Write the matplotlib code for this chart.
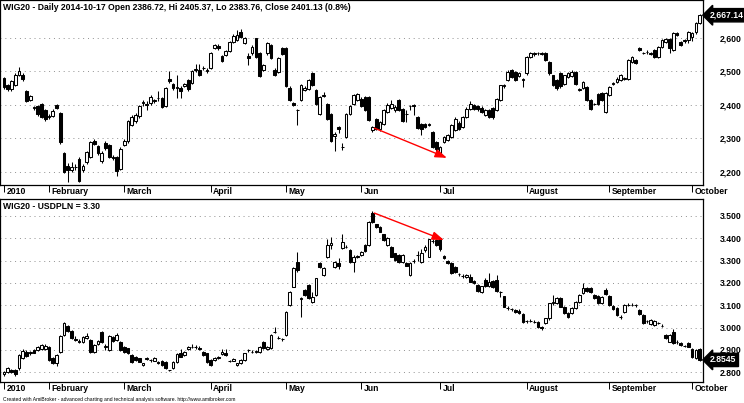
import matplotlib
matplotlib.use("Agg")
import matplotlib.pyplot as plt

# WIG20 daily candles (Jan 2010 - Oct 2010)
wig_open = [2479, 2460, 2446, 2458, 2490, 2490, 2442, 2414, 2391, 2396,
            2402, 2383, 2364, 2367, 2400, 2375, 2257, 2218, 2205, 2213,
            2238, 2206, 2228, 2245, 2292, 2275, 2232, 2286, 2280, 2244,
            2243, 2208, 2280, 2290, 2340, 2352, 2365, 2406, 2401, 2405,
            2410, 2419, 2420, 2395, 2478, 2462, 2449, 2450, 2455, 2474,
            2466, 2502, 2504, 2508, 2500, 2510, 2568, 2576, 2545, 2549,
            2560, 2586, 2593, 2618, 2584, 2546, 2553, 2598, 2553, 2503,
            2553, 2578, 2503, 2498, 2568, 2568, 2451, 2404, 2385, 2413,
            2443, 2448, 2495, 2445, 2371, 2427, 2401, 2373, 2305, 2333,
            2273, 2303, 2373, 2403, 2413, 2418, 2423, 2423, 2323, 2358,
            2328, 2343, 2378, 2391, 2383, 2413, 2388, 2373, 2395, 2398,
            2363, 2343, 2341, 2340, 2318, 2288, 2251, 2288, 2293, 2303,
            2323, 2345, 2333, 2363, 2388, 2398, 2395, 2391, 2368, 2383,
            2391, 2383, 2413, 2457, 2473, 2503, 2498, 2485, 2475, 2493,
            2543, 2551, 2553, 2552, 2553, 2528, 2488, 2473, 2493, 2463,
            2483, 2485, 2498, 2445, 2451, 2453, 2413, 2402, 2433, 2435,
            2378, 2428, 2462, 2468, 2473, 2478, 2478, 2528, 2533, 2568,
            2554, 2557, 2552, 2563, 2541, 2573, 2588, 2595, 2563, 2615,
            2588, 2590, 2593, 2603, 2618, 2643]
wig_high = [2483, 2463, 2474, 2493, 2511, 2493, 2445, 2428, 2396, 2399,
            2405, 2386, 2372, 2386, 2402, 2377, 2260, 2226, 2228, 2222,
            2245, 2222, 2262, 2292, 2298, 2278, 2262, 2290, 2283, 2250,
            2246, 2272, 2296, 2355, 2368, 2375, 2400, 2414, 2410, 2428,
            2418, 2440, 2424, 2452, 2500, 2466, 2490, 2456, 2466, 2478,
            2504, 2520, 2522, 2515, 2510, 2558, 2582, 2580, 2548, 2563,
            2590, 2610, 2622, 2625, 2602, 2553, 2578, 2600, 2556, 2522,
            2586, 2580, 2508, 2542, 2572, 2572, 2455, 2408, 2388, 2462,
            2455, 2476, 2498, 2448, 2426, 2438, 2404, 2376, 2318, 2336,
            2285, 2376, 2398, 2432, 2436, 2422, 2425, 2426, 2336, 2360,
            2352, 2386, 2405, 2415, 2398, 2416, 2390, 2383, 2400, 2402,
            2366, 2346, 2344, 2345, 2320, 2292, 2276, 2306, 2312, 2342,
            2362, 2350, 2366, 2392, 2410, 2402, 2398, 2395, 2386, 2386,
            2394, 2420, 2460, 2462, 2502, 2506, 2501, 2498, 2480, 2546,
            2558, 2556, 2558, 2556, 2556, 2530, 2490, 2476, 2496, 2490,
            2497, 2502, 2501, 2450, 2472, 2456, 2416, 2406, 2436, 2438,
            2438, 2456, 2468, 2482, 2491, 2482, 2536, 2545, 2536, 2572,
            2558, 2562, 2556, 2566, 2576, 2596, 2600, 2598, 2616, 2618,
            2591, 2596, 2620, 2618, 2646, 2672]
wig_low = [2448, 2440, 2442, 2455, 2486, 2470, 2408, 2410, 2384, 2366,
           2360, 2350, 2358, 2364, 2387, 2283, 2195, 2170, 2200, 2205,
           2168, 2198, 2222, 2240, 2278, 2250, 2226, 2266, 2242, 2235,
           2188, 2204, 2276, 2286, 2336, 2345, 2360, 2395, 2385, 2400,
           2404, 2412, 2390, 2392, 2466, 2444, 2420, 2420, 2452, 2440,
           2462, 2496, 2486, 2502, 2494, 2506, 2565, 2564, 2526, 2545,
           2557, 2583, 2590, 2600, 2580, 2518, 2548, 2540, 2482, 2500,
           2548, 2535, 2486, 2495, 2548, 2452, 2410, 2396, 2338, 2410,
           2440, 2444, 2455, 2398, 2368, 2422, 2355, 2288, 2263, 2315,
           2265, 2300, 2370, 2400, 2410, 2392, 2380, 2350, 2318, 2325,
           2320, 2340, 2375, 2388, 2378, 2380, 2348, 2348, 2385, 2368,
           2328, 2308, 2330, 2336, 2270, 2262, 2248, 2284, 2290, 2300,
           2320, 2325, 2330, 2360, 2385, 2385, 2380, 2375, 2365, 2360,
           2358, 2380, 2410, 2450, 2470, 2480, 2470, 2482, 2453, 2490,
           2540, 2545, 2548, 2548, 2530, 2488, 2456, 2445, 2450, 2460,
           2480, 2482, 2460, 2440, 2448, 2410, 2385, 2398, 2400, 2410,
           2375, 2425, 2458, 2465, 2470, 2474, 2475, 2525, 2520, 2560,
           2550, 2552, 2548, 2538, 2538, 2570, 2585, 2555, 2560, 2605,
           2575, 2585, 2585, 2590, 2612, 2640]
wig_close = [2454, 2446, 2471, 2490, 2500, 2476, 2412, 2425, 2392, 2372,
             2363, 2357, 2366, 2382, 2390, 2287, 2198, 2204, 2215, 2214,
             2173, 2218, 2258, 2288, 2282, 2255, 2256, 2271, 2245, 2241,
             2202, 2268, 2292, 2350, 2364, 2370, 2395, 2408, 2399, 2424,
             2413, 2421, 2394, 2450, 2472, 2449, 2452, 2441, 2463, 2446,
             2500, 2505, 2490, 2510, 2502, 2555, 2579, 2568, 2530, 2560,
             2586, 2606, 2608, 2603, 2598, 2540, 2573, 2543, 2485, 2518,
             2583, 2538, 2490, 2538, 2551, 2455, 2413, 2400, 2384, 2458,
             2451, 2473, 2458, 2401, 2423, 2428, 2358, 2291, 2312, 2328,
             2274, 2373, 2395, 2428, 2433, 2395, 2383, 2353, 2333, 2328,
             2348, 2383, 2398, 2403, 2393, 2383, 2351, 2372, 2397, 2396,
             2331, 2328, 2333, 2341, 2273, 2268, 2273, 2303, 2308, 2338,
             2358, 2328, 2363, 2388, 2403, 2388, 2388, 2378, 2383, 2363,
             2363, 2418, 2458, 2458, 2498, 2483, 2473, 2495, 2476, 2543,
             2553, 2553, 2554, 2553, 2533, 2493, 2458, 2451, 2455, 2488,
             2493, 2498, 2463, 2447, 2468, 2413, 2388, 2403, 2403, 2413,
             2435, 2453, 2464, 2478, 2488, 2479, 2533, 2541, 2523, 2563,
             2555, 2558, 2553, 2541, 2573, 2593, 2595, 2568, 2613, 2608,
             2578, 2592, 2618, 2615, 2643, 2667]

# USDPLN daily candles
usd_open = [2.790, 2.802, 2.812, 2.810, 2.817, 2.862, 2.892, 2.888, 2.901, 2.899,
            2.903, 2.904, 2.914, 2.862, 2.840, 2.890, 2.968, 3.005, 2.985, 2.947,
            2.938, 2.937, 2.955, 2.944, 2.892, 2.928, 2.980, 2.914, 2.900, 2.958,
            2.944, 2.935, 2.914, 2.907, 2.877, 2.869, 2.862, 2.830, 2.861, 2.853,
            2.851, 2.847, 2.851, 2.847, 2.810, 2.820, 2.847, 2.884, 2.877, 2.904,
            2.914, 2.913, 2.907, 2.892, 2.884, 2.854, 2.855, 2.862, 2.880, 2.884,
            2.850, 2.852, 2.832, 2.840, 2.854, 2.898, 2.892, 2.890, 2.892, 2.937,
            2.904, 2.907, 2.981, 2.955, 2.949, 2.966, 3.101, 3.183, 3.295, 3.128,
            3.168, 3.190, 3.116, 3.146, 3.287, 3.235, 3.318, 3.368, 3.273, 3.290,
            3.355, 3.362, 3.348, 3.295, 3.318, 3.325, 3.370, 3.370, 3.512, 3.462,
            3.452, 3.418, 3.370, 3.362, 3.333, 3.325, 3.295, 3.288, 3.235, 3.300,
            3.325, 3.295, 3.348, 3.318, 3.388, 3.393, 3.400, 3.320, 3.298, 3.288,
            3.273, 3.240, 3.232, 3.228, 3.228, 3.210, 3.190, 3.161, 3.215, 3.185,
            3.210, 3.213, 3.161, 3.140, 3.089, 3.083, 3.080, 3.076, 3.062, 3.029,
            3.030, 3.027, 3.026, 3.001, 3.019, 3.041, 3.108, 3.108, 3.131, 3.093,
            3.064, 3.064, 3.086, 3.116, 3.154, 3.178, 3.176, 3.146, 3.140, 3.110,
            3.170, 3.140, 3.095, 3.086, 3.049, 3.070, 3.100, 3.102, 3.101, 3.078,
            3.056, 3.029, 3.016, 3.012, 3.020, 3.009, 2.966, 2.937, 2.978, 2.936,
            2.930, 2.919, 2.932, 2.905, 2.862, 2.905]
usd_high = [2.806, 2.822, 2.815, 2.815, 2.882, 2.902, 2.898, 2.895, 2.905, 2.918,
            2.928, 2.925, 2.916, 2.866, 2.880, 2.966, 3.026, 3.010, 2.988, 2.960,
            2.950, 2.962, 2.975, 2.948, 2.925, 2.945, 2.984, 2.925, 2.965, 2.962,
            2.975, 2.938, 2.918, 2.910, 2.880, 2.872, 2.865, 2.842, 2.870, 2.860,
            2.866, 2.850, 2.855, 2.850, 2.812, 2.850, 2.884, 2.905, 2.897, 2.918,
            2.925, 2.923, 2.918, 2.895, 2.887, 2.857, 2.866, 2.873, 2.905, 2.905,
            2.855, 2.863, 2.842, 2.860, 2.888, 2.905, 2.898, 2.900, 2.918, 2.940,
            2.918, 2.970, 3.004, 2.962, 2.955, 3.075, 3.166, 3.270, 3.340, 3.138,
            3.172, 3.195, 3.160, 3.224, 3.292, 3.270, 3.395, 3.406, 3.300, 3.310,
            3.418, 3.370, 3.352, 3.325, 3.325, 3.345, 3.375, 3.478, 3.520, 3.466,
            3.455, 3.420, 3.404, 3.365, 3.336, 3.328, 3.330, 3.292, 3.292, 3.305,
            3.345, 3.350, 3.368, 3.398, 3.395, 3.396, 3.403, 3.325, 3.302, 3.292,
            3.276, 3.246, 3.238, 3.242, 3.240, 3.213, 3.193, 3.188, 3.222, 3.245,
            3.214, 3.235, 3.165, 3.143, 3.095, 3.088, 3.084, 3.082, 3.065, 3.036,
            3.038, 3.034, 3.030, 3.008, 3.045, 3.112, 3.146, 3.136, 3.135, 3.097,
            3.068, 3.090, 3.120, 3.150, 3.200, 3.182, 3.180, 3.150, 3.144, 3.140,
            3.178, 3.144, 3.099, 3.090, 3.054, 3.104, 3.110, 3.110, 3.106, 3.082,
            3.060, 3.036, 3.040, 3.034, 3.026, 3.014, 2.972, 2.970, 2.992, 2.942,
            2.934, 2.924, 2.936, 2.908, 2.904, 2.908]
usd_low = [2.783, 2.798, 2.795, 2.785, 2.812, 2.858, 2.870, 2.878, 2.884, 2.896,
           2.900, 2.900, 2.850, 2.838, 2.828, 2.886, 2.964, 2.980, 2.948, 2.940,
           2.932, 2.932, 2.950, 2.888, 2.888, 2.922, 2.932, 2.900, 2.895, 2.936,
           2.940, 2.896, 2.888, 2.880, 2.843, 2.850, 2.844, 2.826, 2.855, 2.845,
           2.848, 2.836, 2.828, 2.813, 2.805, 2.815, 2.843, 2.866, 2.874, 2.900,
           2.910, 2.906, 2.900, 2.873, 2.843, 2.828, 2.852, 2.858, 2.876, 2.873,
           2.845, 2.848, 2.828, 2.836, 2.850, 2.890, 2.885, 2.885, 2.888, 2.904,
           2.900, 2.903, 2.975, 2.948, 2.940, 2.962, 3.097, 3.180, 3.250, 3.048,
           3.142, 3.126, 3.110, 3.140, 3.268, 3.230, 3.310, 3.350, 3.265, 3.262,
           3.350, 3.355, 3.290, 3.250, 3.310, 3.320, 3.340, 3.365, 3.470, 3.448,
           3.426, 3.388, 3.365, 3.314, 3.298, 3.290, 3.290, 3.274, 3.230, 3.290,
           3.300, 3.290, 3.340, 3.314, 3.380, 3.366, 3.345, 3.308, 3.283, 3.238,
           3.244, 3.230, 3.222, 3.224, 3.202, 3.195, 3.160, 3.156, 3.182, 3.180,
           3.176, 3.158, 3.138, 3.090, 3.080, 3.075, 3.064, 3.062, 3.022, 3.022,
           3.024, 3.020, 3.000, 2.990, 3.015, 3.036, 3.100, 3.104, 3.090, 3.060,
           3.045, 3.060, 3.082, 3.112, 3.150, 3.160, 3.156, 3.126, 3.106, 3.106,
           3.146, 3.096, 3.080, 3.050, 3.040, 3.066, 3.095, 3.096, 3.094, 3.056,
           3.015, 3.022, 3.012, 3.008, 3.014, 3.002, 2.948, 2.933, 2.928, 2.928,
           2.918, 2.912, 2.912, 2.864, 2.858, 2.850]
usd_close = [2.800, 2.817, 2.800, 2.790, 2.877, 2.896, 2.874, 2.889, 2.887, 2.914,
             2.921, 2.918, 2.854, 2.843, 2.877, 2.962, 3.020, 2.985, 2.953, 2.944,
             2.937, 2.958, 2.960, 2.892, 2.921, 2.940, 2.937, 2.916, 2.960, 2.940,
             2.966, 2.900, 2.891, 2.884, 2.847, 2.854, 2.847, 2.839, 2.862, 2.855,
             2.862, 2.839, 2.832, 2.817, 2.809, 2.847, 2.880, 2.869, 2.892, 2.914,
             2.915, 2.914, 2.906, 2.877, 2.847, 2.832, 2.862, 2.869, 2.892, 2.877,
             2.849, 2.857, 2.839, 2.854, 2.884, 2.900, 2.891, 2.893, 2.914, 2.907,
             2.914, 2.966, 2.982, 2.954, 2.948, 3.071, 3.160, 3.265, 3.258, 3.134,
             3.146, 3.131, 3.138, 3.220, 3.273, 3.265, 3.370, 3.380, 3.295, 3.275,
             3.385, 3.363, 3.295, 3.318, 3.319, 3.340, 3.343, 3.475, 3.475, 3.452,
             3.430, 3.392, 3.400, 3.318, 3.303, 3.295, 3.325, 3.278, 3.288, 3.298,
             3.326, 3.333, 3.362, 3.395, 3.389, 3.370, 3.352, 3.313, 3.288, 3.243,
             3.248, 3.239, 3.231, 3.236, 3.205, 3.198, 3.165, 3.185, 3.185, 3.206,
             3.180, 3.163, 3.159, 3.093, 3.088, 3.082, 3.068, 3.066, 3.026, 3.030,
             3.031, 3.026, 3.004, 3.000, 3.041, 3.108, 3.116, 3.131, 3.093, 3.064,
             3.049, 3.086, 3.116, 3.146, 3.176, 3.165, 3.161, 3.131, 3.110, 3.135,
             3.150, 3.100, 3.085, 3.056, 3.048, 3.100, 3.101, 3.103, 3.100, 3.060,
             3.019, 3.030, 3.036, 3.030, 3.021, 3.008, 2.952, 2.965, 2.932, 2.935,
             2.922, 2.918, 2.915, 2.868, 2.900, 2.855]

month_labels = ["2010", "February", "March", "April", "May", "Jun", "Jul",
                "August", "September", "October"]
month_bars = [12, 20, 23, 20, 20, 21, 23, 22, 22, 3]

wig_ticks = [2200, 2300, 2400, 2500, 2600]
usd_ticks = [2.8, 2.9, 3.0, 3.1, 3.2, 3.3, 3.4, 3.5]

# red trend arrows (bar index, price)
wig_arrow = [(98.5, 2330), (117.8, 2241)]
usd_arrow = [(98.5, 3.513), (117.0, 3.392)]

wig_title = "WIG20 - Daily 2014-10-17 Open 2386.72, Hi 2405.37, Lo 2383.76, Close 2401.13 (0.8%)"
usd_title = "WIG20 - USDPLN = 3.30"
footer = ("Created with AmiBroker - advanced charting and technical analysis software. "
          "http://www.amibroker.com")

plt.rcParams['font.family'] = ['Liberation Sans', 'DejaVu Sans']

FS = 6.2
month_starts = []
pos = 0
for n in month_bars:
    month_starts.append(pos)
    pos += n


def draw_candles(ax, o, h, l, c):
    x = list(range(len(c)))
    ax.vlines(x, l, h, color='black', lw=0.75, zorder=2)
    bottoms = [min(a, b) for a, b in zip(o, c)]
    heights = [abs(b - a) for a, b in zip(o, c)]
    colors = ['white' if b >= a else 'black' for a, b in zip(o, c)]
    ax.bar(x, heights, bottom=bottoms, width=0.72, color=colors,
           edgecolor='black', linewidth=0.75, zorder=3)


def style_panel(ax, ticks, ylim, fmt, title, last, badge):
    ax.set_xlim(-1.04, 185.9)
    ax.set_ylim(*ylim)
    ax.set_yticks(ticks)
    ax.set_yticklabels([fmt(t) for t in ticks])
    ax.yaxis.tick_right()
    ax.tick_params(axis='y', length=0, pad=12, labelsize=FS)
    for lab in ax.get_yticklabels():
        lab.set_fontweight('bold')
    ax.yaxis.grid(True, linestyle=(0, (1, 4)), color='#909090', lw=0.7)
    ax.set_axisbelow(True)
    ax.set_xticks(month_starts)
    ax.tick_params(axis='x', direction='out', length=5, width=0.7,
                   labelbottom=False)
    for s in ax.spines.values():
        s.set_linewidth(0.9)
    for p, lab in zip(month_starts, month_labels):
        ax.annotate(lab, xy=(p, 0), xycoords=('data', 'axes fraction'),
                    xytext=(1.8, -1.5), textcoords='offset points',
                    ha='left', va='top', fontsize=FS, fontweight='bold',
                    annotation_clip=False)
    ax.text(0.004, 0.985, title, transform=ax.transAxes, ha='left', va='top',
            fontsize=FS, fontweight='bold')
    ax.annotate(badge, xy=(1, last), xycoords=('axes fraction', 'data'),
                xytext=(5, 0), textcoords='offset points', ha='left',
                va='center', color='white', fontsize=FS, fontweight='bold',
                annotation_clip=False,
                bbox=dict(boxstyle='larrow,pad=0.25', fc='black', ec='black'))


fig = plt.figure(figsize=(7.44, 4.03), dpi=100)
ax1 = fig.add_axes([0.0, 1 - 185 / 403, 703 / 744, 185 / 403])
ax2 = fig.add_axes([0.0, 1 - 382 / 403, 703 / 744, 183 / 403])

draw_candles(ax1, wig_open, wig_high, wig_low, wig_close)
draw_candles(ax2, usd_open, usd_high, usd_low, usd_close)

style_panel(ax1, wig_ticks, (2160, 2712.5), lambda v: f"{v:,.0f}",
            wig_title, wig_close[-1], "2,667.14")
style_panel(ax2, usd_ticks, (2.756, 3.576), lambda v: f"{v:.3f}",
            usd_title, usd_close[-1], "2.8545")

for ax, arr in ((ax1, wig_arrow), (ax2, usd_arrow)):
    ax.annotate('', xy=arr[1], xytext=arr[0],
                arrowprops=dict(arrowstyle='-|>,head_length=0.7,head_width=0.25',
                                color='#ff0000', lw=1.0, shrinkA=0, shrinkB=0),
                zorder=5)

fig.text(0.004, 0.003, footer, fontsize=3.6, ha='left', va='bottom')

fig.savefig("out.png", dpi=100)
